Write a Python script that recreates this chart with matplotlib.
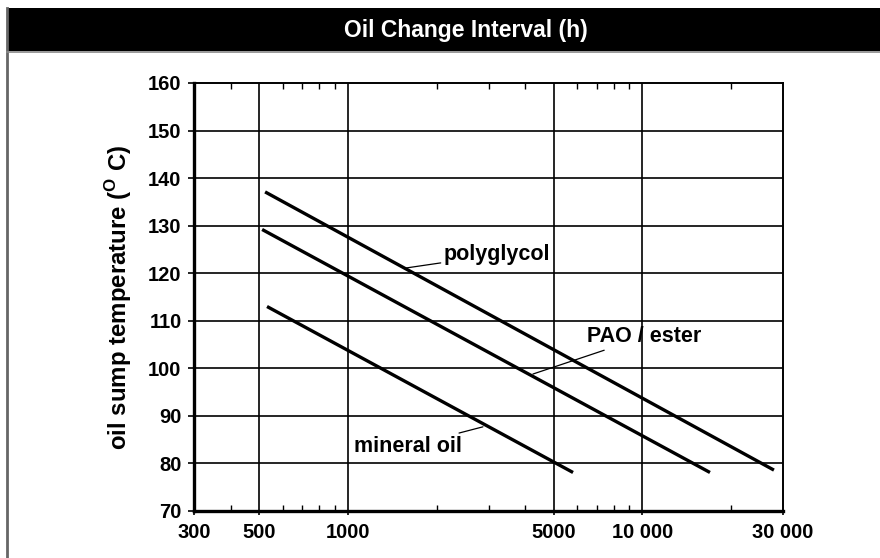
import matplotlib
matplotlib.use("Agg")
import matplotlib.pyplot as plt
from matplotlib.patches import Rectangle
from matplotlib.lines import Line2D
from matplotlib.ticker import FixedLocator, FixedFormatter, NullFormatter

plt.rcParams['font.family'] = ['Liberation Sans', 'DejaVu Sans']
plt.rcParams['font.weight'] = 'bold'
plt.rcParams['mathtext.fontset'] = 'custom'
plt.rcParams['mathtext.rm'] = 'Liberation Sans:bold'

# data (interval in hours, sump temperature in deg C)
polyglycol_h = [523, 27950]
polyglycol_t = [137.1, 78.6]
pao_h = [511, 16950]
pao_t = [129.2, 78.1]
mineral_h = [531, 5810]
mineral_t = [113.0, 78.1]

x_ticks = [300, 500, 1000, 5000, 10000, 30000]
x_labels = ["300", "500", "1000", "5000", "10 000", "30 000"]
x_minor = [400, 600, 700, 800, 900, 2000, 3000, 4000,
           6000, 7000, 8000, 9000, 20000]
y_ticks = list(range(70, 161, 10))

fig = plt.figure(figsize=(8.8, 5.58), dpi=100)

# header band
fig.patches.append(Rectangle((7 / 880, 1 - 51 / 558), 1, 43 / 558,
                             transform=fig.transFigure, facecolor='black',
                             edgecolor='none'))
fig.lines.append(Line2D([6.5 / 880, 6.5 / 880], [0, 1 - 8 / 558],
                        transform=fig.transFigure, color='#666666', lw=2))
fig.lines.append(Line2D([7 / 880, 1], [1 - 51.5 / 558, 1 - 51.5 / 558],
                        transform=fig.transFigure, color='#888888', lw=1.2))
fig.text(466 / 880, 1 - 31 / 558, "Oil Change Interval (h)", color='white',
         fontsize=16.5, fontweight='bold', ha='center', va='center')

ax = fig.add_axes([194 / 880, 47 / 558, 589 / 880, 428 / 558])
ax.set_xscale('log')
ax.set_xlim(300, 30000)
ax.set_ylim(70, 160)

ax.plot(polyglycol_h, polyglycol_t, color='black', lw=2.4, solid_capstyle='butt')
ax.plot(pao_h, pao_t, color='black', lw=2.4, solid_capstyle='butt')
ax.plot(mineral_h, mineral_t, color='black', lw=2.4, solid_capstyle='butt')

ax.xaxis.set_major_locator(FixedLocator(x_ticks))
ax.xaxis.set_major_formatter(FixedFormatter(x_labels))
ax.xaxis.set_minor_locator(FixedLocator(x_minor))
ax.xaxis.set_minor_formatter(NullFormatter())
ax.set_yticks(y_ticks)

for v in [500, 1000, 5000, 10000]:
    ax.axvline(v, color='black', lw=1.2, zorder=0)
for v in y_ticks[1:-1]:
    ax.axhline(v, color='black', lw=1.2, zorder=0)

ax.tick_params(axis='x', which='major', direction='out', length=3, width=1.2,
               labelsize=14.5, pad=6)
ax.tick_params(axis='x', which='minor', direction='in', length=4, width=1,
               top=True, bottom=True)
ax.tick_params(axis='y', which='major', direction='out', length=4, width=1.2,
               labelsize=14.5, pad=5)
for lab in ax.get_xticklabels() + ax.get_yticklabels():
    lab.set_fontweight('bold')

ax.spines['left'].set_linewidth(2.4)
ax.spines['bottom'].set_linewidth(2.4)
ax.spines['top'].set_linewidth(1.4)
ax.spines['right'].set_linewidth(1.4)

ax.set_ylabel(r"oil sump temperature ($^\mathrm{O}$ C)", fontsize=17.3,
              fontweight='bold', labelpad=10)

# leader lines and labels
ax.annotate("polyglycol", xy=(1574, 121.1), xytext=(2110, 123.9),
            fontsize=15.5, fontweight='bold', va='center', ha='left',
            arrowprops=dict(arrowstyle='-', lw=0.9, color='black',
                            shrinkA=0, shrinkB=0))
ax.annotate("PAO / ester", xy=(4246, 98.8), xytext=(6470, 106.6),
            fontsize=15.5, fontweight='bold', va='center', ha='left',
            arrowprops=dict(arrowstyle='-', lw=0.9, color='black',
                            shrinkA=0, shrinkB=0))
ax.annotate("mineral oil", xy=(2872, 87.7), xytext=(2438, 83.6),
            fontsize=15.5, fontweight='bold', va='center', ha='right',
            arrowprops=dict(arrowstyle='-', lw=0.9, color='black',
                            shrinkA=0, shrinkB=0))

plt.savefig('out.png', dpi=100)
